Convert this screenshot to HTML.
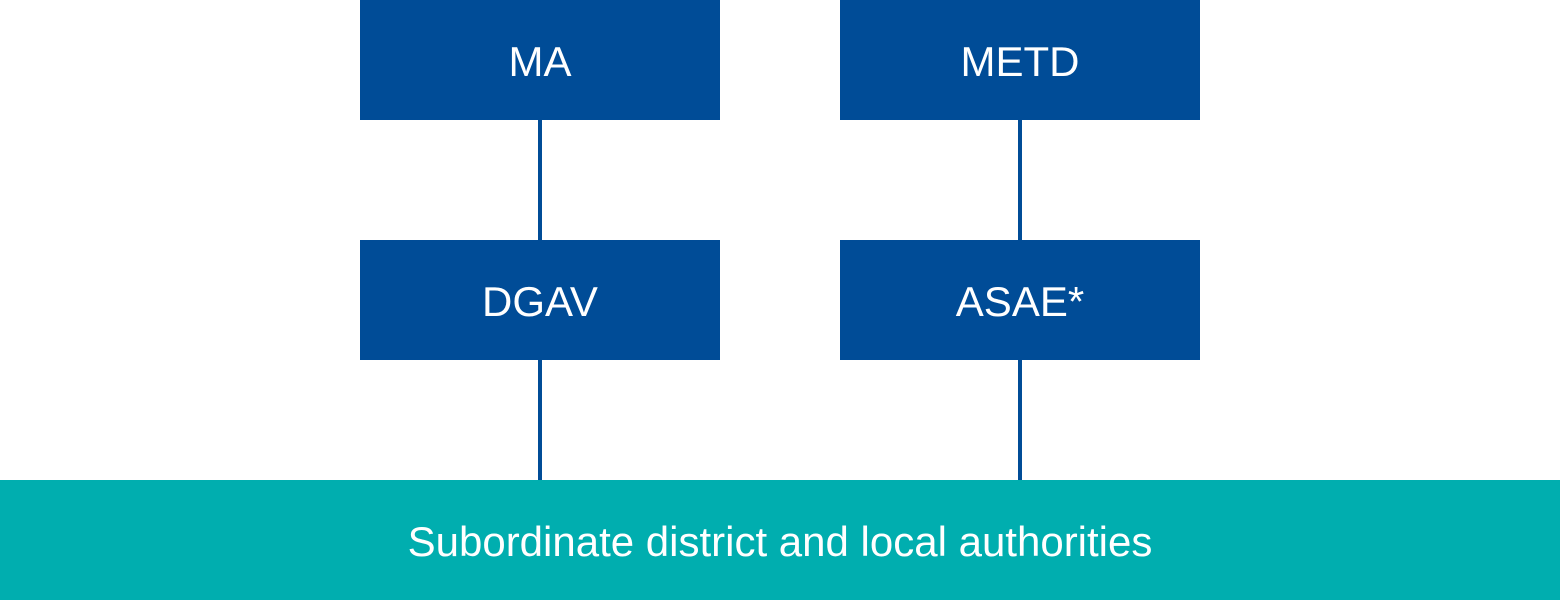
<!DOCTYPE html>
<html><head><style>
body{margin:0;width:1560px;height:600px;background:#fff;position:relative;overflow:hidden;font-family:"Liberation Sans",Arial,sans-serif}
.b{position:absolute;width:360px;height:120px;background:#004C97;color:#fff;font-size:42px;display:flex;align-items:center;justify-content:center;padding-top:3px;box-sizing:border-box}
.l{position:absolute;width:4px;background:#004C97}
.bar{position:absolute;left:0;top:480px;width:1560px;height:120px;background:#00AEAF;color:#fff;font-size:42px;display:flex;align-items:center;justify-content:center;padding-top:3px;box-sizing:border-box}
</style></head><body>
<div class="l" style="left:538px;top:120px;height:120px"></div>
<div class="l" style="left:1018px;top:120px;height:120px"></div>
<div class="l" style="left:538px;top:360px;height:120px"></div>
<div class="l" style="left:1018px;top:360px;height:120px"></div>
<div class="b" style="left:360px;top:0">MA</div>
<div class="b" style="left:840px;top:0">METD</div>
<div class="b" style="left:360px;top:240px">DGAV</div>
<div class="b" style="left:840px;top:240px">ASAE*</div>
<div class="bar">Subordinate district and local authorities</div>
</body></html>
